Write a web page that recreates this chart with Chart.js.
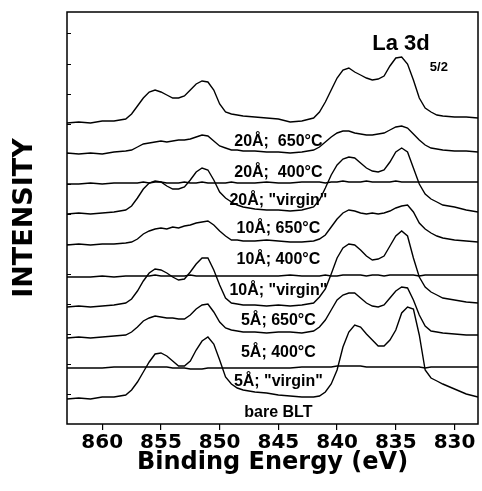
<!DOCTYPE html>
<html>
<head>
<meta charset="utf-8">
<script src="https://cdn.jsdelivr.net/npm/chart.js@4.4.1/dist/chart.umd.min.js"></script>
<style>
  html, body { margin: 0; padding: 0; background: #fff; }
  #wrap { width: 482px; height: 491px; position: relative; }
</style>
</head>
<body>
<div id="wrap"><canvas id="xps"></canvas></div>
<script>
// La 3d5/2 XPS spectra, stacked (binding energy in eV, intensity in a.u.)
const energies = [863, 862, 861, 860, 859, 858,
  857.5, 857, 856.5, 856, 855.5, 855, 854.5, 854, 853.5, 853, 852.5, 852, 851.5, 851, 850.5, 850, 849.5, 849, 848.5, 848,
  847, 846, 845, 844, 843, 842,
  841.5, 841, 840.5, 840, 839.5, 839, 838.5, 838, 837.5, 837, 836.5, 836, 835.5, 835, 834.5, 834, 833.5, 833, 832.5, 832, 831.5, 831,
  830, 829, 828];

const tickEnergies = [860, 855, 850, 845, 840, 835, 830];
const intensityTicks = [30, 60, 90, 120, 150, 180, 210, 240, 270, 300, 330, 360, 390];

const traceLabels = ['20Å;  650°C', '20Å;  400°C', '20Å; "virgin"',
  '10Å; 650°C', '10Å; 400°C', '10Å; "virgin"',
  '5Å; 650°C', '5Å; 400°C', '5Å; "virgin"', 'bare BLT'];

// vertical stacking offset of each spectrum
const traceOffsets = [301, 271, 240, 210, 179, 147, 117, 86, 56, 25];

const s20_650 = [0, 1, 0, 2, 2, 4,
  9, 17, 25, 31, 33, 31, 28, 25, 25, 27, 33, 39, 42, 41, 33, 19, 11, 9, 8, 7,
  6, 5, 4, 1, 2, 5,
  11, 21, 33, 45, 53, 55, 51, 48, 45, 43, 44, 47, 57, 65, 66, 59, 43, 25, 15, 11, 8, 7,
  6, 6, 5];
const s20_400 = [0, -1, 0, -1, 1, 2,
  3, 6, 9, 10, 11, 12, 11, 12, 13, 13, 14, 16, 18, 17, 12, 7, 5, 3, 3, 2,
  2, 1, 1, 0, 1, 3,
  6, 11, 16, 20, 22, 22, 20, 19, 18, 18, 19, 20, 23, 26, 27, 25, 19, 13, 8, 5, 4, 3,
  2, 2, 1];
const s20_virgin = [0, 0, 1, 0, 1, 1,
  1, 1, 2, 1, 2, 2, 1, 1, 1, 2, 1, 1, 2, 1, 1, 1, 1, 2, 1, 1,
  1, 2, 1, 1, 2, 2,
  2, 1, 2, 2, 3, 2, 2, 2, 3, 2, 2, 2, 2, 3, 2, 2, 2, 2, 2, 2, 2, 2,
  2, 2, 2];
const s10_650 = [0, 1, 0, 1, 2, 4,
  8, 16, 25, 31, 33, 32, 28, 25, 25, 27, 34, 42, 46, 44, 34, 22, 16, 12, 9, 7,
  5, 4, 4, 3, 4, 7,
  14, 26, 39, 49, 55, 57, 56, 51, 46, 43, 42, 44, 52, 62, 66, 62, 46, 30, 20, 15, 12, 9,
  7, 4, 2];
const s10_400 = [0, 1, 0, 1, 1, 2,
  3, 6, 11, 14, 16, 17, 16, 18, 17, 19, 20, 22, 23, 24, 20, 14, 9, 5, 5, 4,
  4, 5, 4, 3, 3, 4,
  6, 10, 18, 26, 32, 35, 34, 32, 31, 32, 31, 32, 34, 37, 39, 40, 33, 22, 16, 12, 9, 7,
  5, 4, 3];
const s10_virgin = [0, 0, 0, 1, 0, 1,
  1, 1, 1, 1, 2, 1, 1, 1, 1, 1, 2, 1, 1, 1, 1, 1, 1, 1, 1, 1,
  1, 1, 1, 2, 1, 1,
  1, 2, 1, 1, 2, 2, 2, 2, 1, 2, 2, 1, 2, 2, 2, 2, 2, 1, 2, 2, 2, 2,
  2, 2, 2];
const s5_650 = [0, 1, 0, 1, 2, 4,
  8, 16, 26, 34, 38, 37, 34, 30, 27, 28, 35, 43, 49, 49, 37, 22, 9, 4, 3, 2,
  2, 1, 2, 1, 2, 4,
  10, 18, 33, 49, 59, 63, 62, 57, 51, 47, 48, 51, 61, 71, 76, 71, 49, 30, 20, 15, 12, 9,
  7, 5, 4];
const s5_400 = [0, 1, 0, 1, 2, 3,
  6, 11, 17, 20, 22, 21, 20, 20, 19, 19, 23, 29, 33, 34, 26, 16, 10, 8, 7, 6,
  6, 5, 6, 6, 5, 7,
  11, 18, 28, 38, 43, 45, 45, 40, 35, 32, 31, 33, 40, 47, 51, 50, 38, 23, 12, 7, 6, 5,
  4, 3, 3];
const s5_virgin = [0, 0, 0, 0, 1, 1,
  1, 1, 1, 1, 1, 1, 1, 0, 0, 0, -1, -1, -1, 0, 0, 0, 0, 0, 0, 0,
  0, 0, 0, 0, 1, 1,
  1, 1, 1, 2, 2, 2, 2, 2, 1, 1, 1, 1, 1, 1, 1, 1, 1, 1, 0, 1, 1, 1,
  1, 1, 1];
const sBare = [0, 1, 0, 2, 2, 4,
  9, 17, 27, 37, 45, 46, 43, 38, 33, 33, 38, 49, 58, 62, 55, 39, 22, 15, 11, 9,
  7, 6, 4, 3, 2, 2,
  3, 7, 15, 29, 52, 67, 74, 72, 65, 59, 53, 53, 59, 69, 86, 92, 90, 64, 29, 21, 18, 15,
  10, 5, 2];

const spectra = [s20_650, s20_400, s20_virgin, s10_650, s10_400, s10_virgin, s5_650, s5_400, s5_virgin, sBare];

// where the annotations sit, in data units (below each baseline)
const labelEnergy = 845;
const labelDrops = [19, 20, 17, 15, 15, 14, 14, 15, 14, 14];

const BOLD_WIDE = '"DejaVu Sans", Verdana, sans-serif';
const BOLD_ARIAL = '"Liberation Sans", Arial, Helvetica, sans-serif';

const overlay = {
  id: 'overlay',
  afterDatasetsDraw(chart) {
    const { ctx, chartArea: a, scales: { x, y } } = chart;
    ctx.save();
    ctx.strokeStyle = '#000';
    ctx.lineWidth = 1.5;
    ctx.strokeRect(a.left, a.top, a.right - a.left, a.bottom - a.top);

    ctx.fillStyle = '#000';
    ctx.textAlign = 'center';
    ctx.textBaseline = 'middle';
    ctx.font = 'bold 16px ' + BOLD_ARIAL;
    traceLabels.forEach((t, i) => {
      ctx.fillText(t, x.getPixelForValue(labelEnergy), y.getPixelForValue(traceOffsets[i] - labelDrops[i]));
    });

    // La 3d 5/2 header
    ctx.textAlign = 'left';
    ctx.textBaseline = 'alphabetic';
    ctx.font = 'bold 22px ' + BOLD_ARIAL;
    ctx.fillText('La 3d', x.getPixelForValue(837), y.getPixelForValue(374));
    ctx.font = 'bold 13px ' + BOLD_ARIAL;
    ctx.fillText('5/2', x.getPixelForValue(832.1), y.getPixelForValue(353));
    ctx.restore();
  }
};

new Chart(document.getElementById('xps'), {
  type: 'line',
  data: {
    datasets: spectra.map((s, i) => ({
      label: traceLabels[i],
      data: s.map((v, k) => ({ x: energies[k], y: traceOffsets[i] + v })),
      borderColor: '#000',
      borderWidth: 1.4,
      pointRadius: 0,
      tension: 0,
      fill: false
    }))
  },
  options: {
    responsive: true,
    maintainAspectRatio: false,
    animation: false,
    layout: { padding: { left: 0, right: 4, top: 12, bottom: 0 } },
    plugins: {
      legend: { display: false },
      tooltip: { enabled: false }
    },
    scales: {
      x: {
        type: 'linear',
        reverse: true,
        min: 828,
        max: 863,
        afterBuildTicks: scale => { scale.ticks = tickEnergies.map(v => ({ value: v })); },
        afterFit: scale => { scale.height = 67; },
        border: { display: false },
        grid: { drawOnChartArea: false, drawTicks: true, tickLength: 6, color: '#000', lineWidth: 1.2 },
        ticks: {
          color: '#000',
          padding: 1,
          maxRotation: 0,
          font: { family: BOLD_WIDE, size: 20, weight: 'bold' }
        },
        title: {
          display: true,
          text: 'Binding Energy (eV)',
          color: '#000',
          padding: { top: 0, bottom: 14 },
          font: { family: BOLD_WIDE, size: 24, weight: 'bold' }
        }
      },
      y: {
        min: 0,
        max: 412,
        afterBuildTicks: scale => { scale.ticks = intensityTicks.map(v => ({ value: v })); },
        afterFit: scale => { scale.width = 67; },
        border: { display: false },
        grid: { drawOnChartArea: false, drawTicks: true, tickLength: -4, color: '#000', lineWidth: 1 },
        ticks: { display: false },
        title: {
          display: true,
          text: 'INTENSITY',
          color: '#000',
          padding: { top: 9, bottom: 0 },
          font: { family: BOLD_WIDE, size: 27, weight: 'bold' }
        }
      }
    }
  },
  plugins: [overlay]
});
</script>
</body>
</html>
